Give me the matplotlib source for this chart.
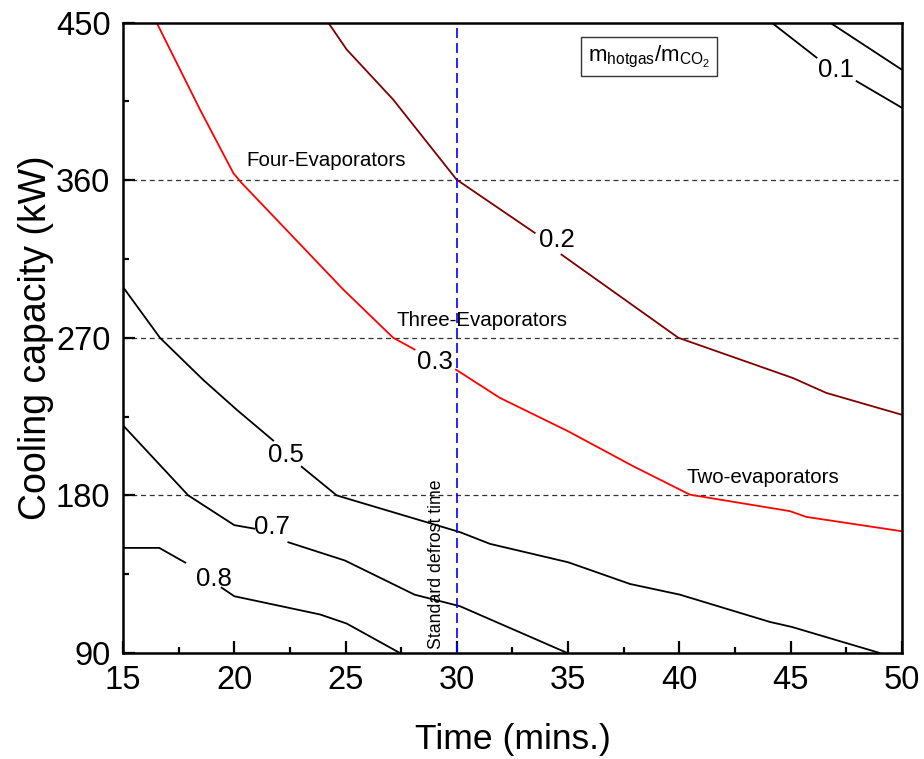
import numpy as np
import matplotlib.pyplot as plt

plt.rcParams['font.family'] = ['Liberation Sans', 'DejaVu Sans']
plt.rcParams['mathtext.fontset'] = 'custom'
plt.rcParams['mathtext.rm'] = 'Liberation Sans'

nan = np.nan

# contour lines (nan = gap where the label sits)
c08_x = [15.0, 16.63, 17.8, nan, 19.43, 20.0, 23.85, 25.05, 27.44]
c08_y = [150, 150, 141.6, nan, 127.3, 122.4, 112, 106.8, 90]

c07_x = [15.0, 17.93, 20.0, 20.9, nan, 22.43, 24.97, 28.1, 30.14, 34.96]
c07_y = [220, 180, 163, 161, nan, 153.2, 142.8, 123.3, 116.7, 90]

c05_x = [15.0, 16.66, 18.6, 20.1, 21.75, nan, 23.03, 24.6, 25.12, 30.14,
         31.49, 35.0, 37.78, 40.02, 44.07, 45.04, 49.0]
c05_y = [299, 270, 246, 229, 211.3, nan, 196.3, 180, 178, 159,
         152.3, 141.8, 129.4, 123.3, 107.7, 104.9, 90]

c03_x = [16.51, 18.46, 19.96, 20.33, 21.9, 24.9, 27.14, 28.1, nan,
         29.96, 31.93, 35.0, 37.93, 40.47, 44.96, 45.7, 50.0]
c03_y = [450, 400.3, 364, 358.4, 337.5, 297.5, 270, 263.3, nan,
         251.8, 235.7, 216.6, 196.6, 180.4, 171, 167.7, 159.5]

c02_x = [24.22, 25.05, 27.14, 29.99, 33.5, nan, 34.7, 39.95, 45.1, 46.6, 50.0]
c02_y = [450, 434.6, 406, 360.3, 329.9, nan, 317.5, 270, 247, 238.5, 226]

c01_x = [44.14, 46.16, nan, 47.96, 50.0]
c01_y = [450, 430, nan, 416.5, 401.3]

c01b_x = [46.76, 50.0]
c01b_y = [450, 423]

evap_levels = [360, 270, 180]
evap_names = ["Four-Evaporators", "Three-Evaporators", "Two-evaporators"]
defrost_time = 30

x_ticks = [15, 20, 25, 30, 35, 40, 45, 50]
y_ticks = [90, 180, 270, 360, 450]

fig = plt.figure(figsize=(9.24, 7.59), dpi=100)
ax = fig.add_axes([0.1331, 0.1397, 0.8431, 0.8306])

black = "black"
red = "#ff0000"
maroon = "#800000"
ax.plot(c08_x, c08_y, color=black, lw=1.3)
ax.plot(c07_x, c07_y, color=black, lw=1.3)
ax.plot(c05_x, c05_y, color=black, lw=1.3)
ax.plot(c03_x, c03_y, color=red, lw=1.3)
ax.plot(c02_x, c02_y, color=maroon, lw=1.3)
ax.plot(c01_x, c01_y, color=black, lw=1.3)
ax.plot(c01b_x, c01b_y, color=black, lw=1.3)

# contour labels
lab_fs = 18.5
ax.text(19.1, 132, "0.8", fontsize=lab_fs, ha="center", va="center")
ax.text(21.7, 162, "0.7", fontsize=lab_fs, ha="center", va="center")
ax.text(22.3, 203, "0.5", fontsize=lab_fs, ha="center", va="center")
ax.text(29.0, 256, "0.3", fontsize=lab_fs, ha="center", va="center")
ax.text(34.5, 326, "0.2", fontsize=lab_fs, ha="center", va="center")
ax.text(47.05, 423, "0.1", fontsize=lab_fs, ha="center", va="center")

for lvl in evap_levels:
    ax.axhline(lvl, color="#333333", lw=0.9, ls=(0, (4, 3)), zorder=1)
ax.axvline(defrost_time, color="#0000ff", lw=1.2, ls=(0, (6, 3)), zorder=3)

ax.text(20.56, 371, evap_names[0], fontsize=14.8, ha="left", va="center")
ax.text(27.3, 280, evap_names[1], fontsize=14.8, ha="left", va="center")
ax.text(40.3, 190, evap_names[2], fontsize=14.8, ha="left", va="center")
ax.text(29.1, 92, "Standard defrost time", fontsize=12.8, rotation=90,
        ha="center", va="bottom")

ax.text(38.63, 430.5, r"$\mathrm{m_{hotgas}/m_{CO_2}}$", fontsize=16,
        ha="center", va="center",
        bbox=dict(boxstyle="square,pad=0.3", fc="white", ec="#333333", lw=1.0))

ax.set_xlim(15, 50)
ax.set_ylim(90, 450)
ax.set_xticks(x_ticks)
ax.set_yticks(y_ticks)
ax.set_xticks([17.5, 22.5, 27.5, 32.5, 37.5, 42.5, 47.5], minor=True)
ax.set_yticks([135, 225, 315, 405], minor=True)
ax.tick_params(which="major", direction="in", length=8.5, width=1.6,
               labelsize=23.5, pad=9)
ax.tick_params(which="minor", direction="in", length=4.5, width=1.6)
for s in ax.spines.values():
    s.set_linewidth(1.8)

ax.set_xlabel("Time (mins.)", fontsize=25.5, labelpad=19)
ax.set_ylabel("Cooling capacity (kW)", fontsize=27, labelpad=1)

fig.savefig("out.png", dpi=100)
